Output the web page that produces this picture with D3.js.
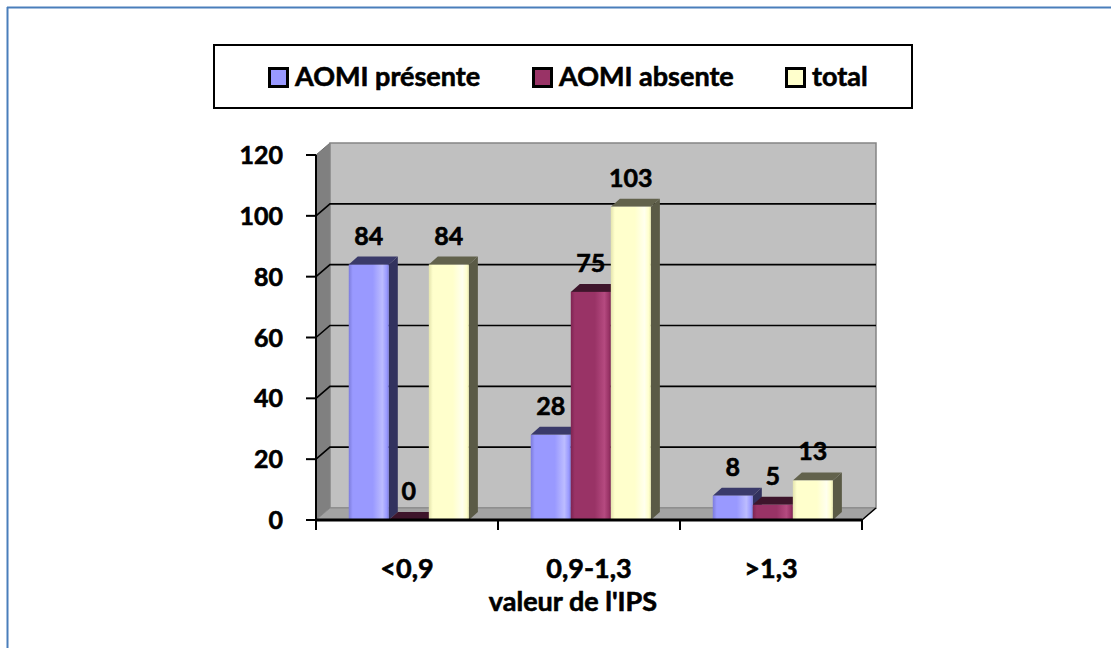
<!DOCTYPE html>
<html>
<head>
<meta charset="utf-8">
<script src="https://cdn.jsdelivr.net/npm/d3@7"></script>
<style>
  html, body { margin: 0; padding: 0; background: #fff; }
  svg { display: block; font-family: Lato, "Open Sans", sans-serif; font-weight: 700; }
  svg text { stroke: #000; stroke-width: 0.6px; fill: #000; }
</style>
</head>
<body>
<svg id="chart" width="1111" height="648"></svg>
<script>
// Data
const categories = ["<0,9", "0,9-1,3", ">1,3"];
const seriesNames = ["AOMI présente", "AOMI absente", "total"];
const presente = [84, 28, 8];
const absente = [0, 75, 5];
const total = [84, 103, 13];
const yTicks = [0, 20, 40, 60, 80, 100, 120];
const axisTitle = "valeur de l'IPS";

const seriesValues = [presente, absente, total];
const palette = [
  { front: "#9999ff", light: "#bcbcff", dark: "#7c7cdc", side: "#32325e", top: "#3a3a6a" },
  { front: "#993366", light: "#b54a80", dark: "#7e2452", side: "#3a1227", top: "#3e152b" },
  { front: "#ffffcc", light: "#ffffee", dark: "#e4e4ae", side: "#5a5a46", top: "#62624c" }
];

const svg = d3.select("#chart");
const defs = svg.append("defs");

// Outer frame (top and left edges)
svg.append("line").attr("x1", 7).attr("y1", 7.5).attr("x2", 1111).attr("y2", 7.5)
  .attr("stroke", "#4a7ebb").attr("stroke-width", 2);
svg.append("line").attr("x1", 7.5).attr("y1", 7).attr("x2", 7.5).attr("y2", 648)
  .attr("stroke", "#4a7ebb").attr("stroke-width", 2);

// Scales
const y = d3.scaleLinear().domain([0, 120]).range([520, 155]);
const x = d3.scaleBand().domain(categories).range([316, 862]);
const bw = x.bandwidth();
const x1 = d3.scaleBand().domain(seriesNames).range([bw * 0.18, bw * 0.84]);

// 3D offsets: wall depth and bar depth
const wdx = 14, wdy = -12;
const bdx = 9, bdy = -8;

const x0 = x.range()[0], xEnd = x.range()[1];
const yTop = y(120), yBase = y(0);

// Side wall
svg.append("path")
  .attr("d", `M${x0},${yBase} L${x0},${yTop} L${x0 + wdx},${yTop + wdy} L${x0 + wdx},${yBase + wdy} Z`)
  .attr("fill", "#808080").attr("stroke", "#6e6e6e").attr("stroke-width", 1);
// Back wall
svg.append("rect")
  .attr("x", x0 + wdx).attr("y", yTop + wdy)
  .attr("width", xEnd - x0).attr("height", yBase - yTop)
  .attr("fill", "#c0c0c0").attr("stroke", "#858585").attr("stroke-width", 1.5);
// Floor
svg.append("path")
  .attr("d", `M${x0},${yBase} L${xEnd},${yBase} L${xEnd + wdx},${yBase + wdy} L${x0 + wdx},${yBase + wdy} Z`)
  .attr("fill", "#a3a3a3").attr("stroke", "#8a8a8a").attr("stroke-width", 1);

// Gridlines on side and back walls
const gridVals = yTicks.filter(v => v > 0 && v < 120);
const grid = svg.append("g");
gridVals.forEach(v => {
  grid.append("path")
    .attr("d", `M${x0},${y(v)} L${x0 + wdx},${y(v) + wdy} L${xEnd + wdx},${y(v) + wdy}`)
    .attr("fill", "none").attr("stroke", "#000").attr("stroke-width", 1.6);
});

// Gradients for bar fronts
palette.forEach((c, i) => {
  const g = defs.append("linearGradient").attr("id", "front" + i)
    .attr("x1", "0").attr("x2", "1").attr("y1", "0").attr("y2", "0");
  [[0, c.dark], [0.1, c.front], [0.6, c.front], [0.84, c.light], [0.95, c.front], [1, c.dark]]
    .forEach(([o, col]) => g.append("stop").attr("offset", o).attr("stop-color", col));
});

// Bars
const bars = svg.append("g");
categories.forEach((cat, ci) => {
  seriesNames.forEach((s, si) => {
    const v = seriesValues[si][ci];
    const bx = x(cat) + x1(s);
    const w = x1.bandwidth();
    const yt = y(v);
    const c = palette[si];
    const g = bars.append("g");
    // right side face
    g.append("path")
      .attr("d", `M${bx + w},${yt} L${bx + w + bdx},${yt + bdy} L${bx + w + bdx},${yBase + bdy} L${bx + w},${yBase} Z`)
      .attr("fill", c.side);
    // top face
    g.append("path")
      .attr("d", `M${bx},${yt} L${bx + bdx},${yt + bdy} L${bx + w + bdx},${yt + bdy} L${bx + w},${yt} Z`)
      .attr("fill", c.top);
    // front face
    if (yBase - yt > 0.5) {
      g.append("rect")
        .attr("x", bx).attr("y", yt).attr("width", w).attr("height", yBase - yt)
        .attr("fill", `url(#front${si})`);
    }
  });
});

// Value labels
const labels = svg.append("g").attr("font-size", 25).attr("text-anchor", "middle");
categories.forEach((cat, ci) => {
  seriesNames.forEach((s, si) => {
    const v = seriesValues[si][ci];
    labels.append("text")
      .attr("x", x(cat) + x1(s) + x1.bandwidth() / 2)
      .attr("y", y(v) + bdy - 12)
      .text(v);
  });
});

// Value axis
const yAxis = svg.append("g");
yAxis.append("line").attr("x1", x0).attr("x2", x0).attr("y1", yTop).attr("y2", yBase)
  .attr("stroke", "#000").attr("stroke-width", 2);
yTicks.forEach(v => {
  yAxis.append("line").attr("x1", x0 - 10).attr("x2", x0).attr("y1", y(v)).attr("y2", y(v))
    .attr("stroke", "#000").attr("stroke-width", 2);
  yAxis.append("text").attr("x", x0 - 33).attr("y", y(v)).attr("dy", "0.36em")
    .attr("text-anchor", "end").attr("font-size", 25).text(v);
});

// Category axis
const xAxis = svg.append("g");
xAxis.append("line").attr("x1", x0 - 1).attr("x2", xEnd).attr("y1", yBase).attr("y2", yBase)
  .attr("stroke", "#000").attr("stroke-width", 3);
xAxis.append("line").attr("x1", xEnd).attr("y1", yBase).attr("x2", xEnd + wdx).attr("y2", yBase + wdy)
  .attr("stroke", "#000").attr("stroke-width", 1.5);
const tickXs = categories.map(c => x(c)).concat([xEnd]);
tickXs.forEach(tx => {
  xAxis.append("line").attr("x1", tx).attr("x2", tx).attr("y1", yBase).attr("y2", yBase + 10)
    .attr("stroke", "#000").attr("stroke-width", 2);
});
categories.forEach(cat => {
  xAxis.append("text").attr("x", x(cat) + bw / 2).attr("y", 578)
    .attr("text-anchor", "middle").attr("font-size", 27).text(cat);
});
svg.append("text").attr("x", 573).attr("y", 611).attr("text-anchor", "middle")
  .attr("font-size", 27).text(axisTitle);

// Legend
const legend = svg.append("g");
legend.append("rect").attr("x", 214).attr("y", 45).attr("width", 698).attr("height", 63)
  .attr("fill", "#fff").attr("stroke", "#000").attr("stroke-width", 2);
const legendX = [269, 533, 786];
seriesNames.forEach((s, i) => {
  legend.append("rect").attr("x", legendX[i] + 0.5).attr("y", 68.5).attr("width", 18).attr("height", 18)
    .attr("fill", palette[i].front).attr("stroke", "#000").attr("stroke-width", 3);
  legend.append("text").attr("x", legendX[i] + 26).attr("y", 86).attr("font-size", 27).text(s);
});
</script>
</body>
</html>
